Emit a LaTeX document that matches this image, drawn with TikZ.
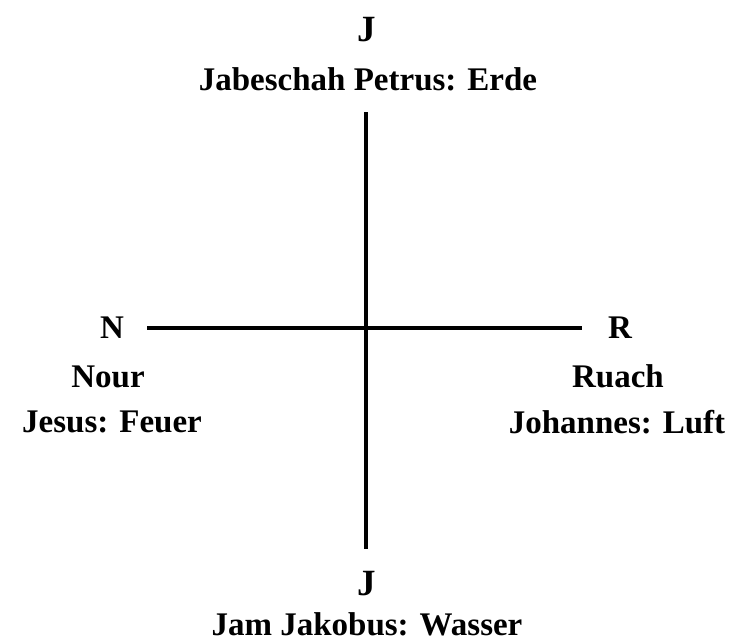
\documentclass[tikz,border=0pt]{standalone}
\usepackage{fontspec}
\setmainfont{Liberation Serif}
\usepackage{tikz}
\usetikzlibrary{positioning}

\begin{document}
\begin{tikzpicture}[x=1pt, y=-1pt,
    lbl/.style={inner sep=0pt, font=\fontsize{33}{37}\selectfont\bfseries},
    pole/.style={lbl, font=\fontsize{37}{40}\selectfont\bfseries},
    axis/.style={line width=4.5pt, black},
  ]
    \useasboundingbox (0,0) rectangle (739,641);

    \node[pole] (Jtop)    at (367,30)  {J};
    \node[lbl]  (Jtoplab) at (368,79)  {Jabeschah Petrus: Erde};
    \node[lbl]  (N)       at (112,328) {N};
    \node[lbl]  (R)       at (620,328) {R};
    \node[lbl]  (Nour)    at (108,377) {Nour};
    \node[lbl]  (Jesus)   at (112,422) {Jesus: Feuer};
    \node[lbl]  (Ruach)   at (618,376) {Ruach};
    \node[lbl]  (Joh)     at (617,422) {Johannes: Luft};
    \node[pole] (Jbot)    at (367,584) {J};
    \node[lbl]  (Jbotlab) at (367,624) {Jam Jakobus: Wasser};

    \coordinate (vtop) at (366,112);
    \coordinate (vbot) at (366,549);
    \coordinate (hl)   at (147,328);
    \coordinate (hr)   at (582,328);

    \draw[axis] (vtop) -- (vbot);
    \draw[axis] (hl) -- (hr);
  \end{tikzpicture}
\end{document}
